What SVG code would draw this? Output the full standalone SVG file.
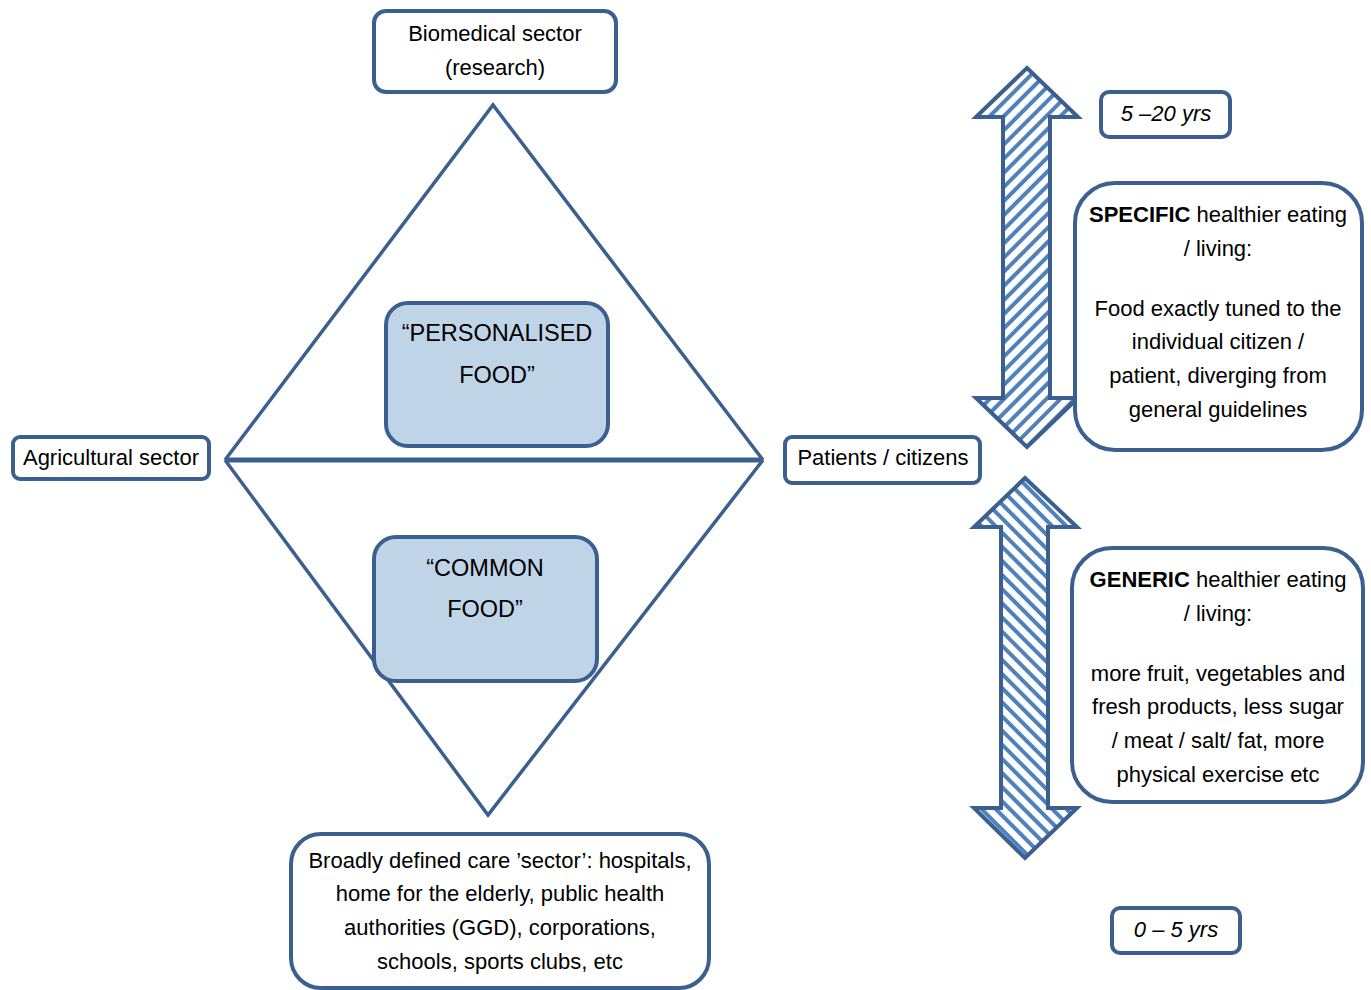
<svg xmlns="http://www.w3.org/2000/svg" width="1371" height="990" viewBox="0 0 1371 990">
<style>
.box{fill:#fff;stroke:#3b5f8e;stroke-width:4}
.food{fill:#c0d4e8;stroke:#3b5f8e;stroke-width:4}
.ln{fill:none;stroke:#3b5f8e;stroke-width:3.5;stroke-linejoin:miter}
.t{font-family:"Liberation Sans",Arial,sans-serif;font-size:22px;fill:#000;text-anchor:middle}
.big{font-size:23.5px}
.it{font-style:italic}
.b{font-weight:bold}
.arr{stroke:#3b5f8e;stroke-width:4;stroke-linejoin:miter}
</style>
<defs>
<pattern id="up" width="10" height="10" patternUnits="userSpaceOnUse" patternTransform="rotate(45)">
<rect width="10" height="10" fill="#fff"/><rect width="4" height="10" fill="#4f81bd"/>
</pattern>
<pattern id="dn" width="10" height="10" patternUnits="userSpaceOnUse" patternTransform="rotate(-45)">
<rect width="10" height="10" fill="#fff"/><rect width="4" height="10" fill="#4f81bd"/>
</pattern>
</defs>
<rect width="1371" height="990" fill="#fff"/>
<g id="connectors">
<path class="ln" d="M225,460 L493,105 L763,460"/>
<path class="ln" d="M225,460 L488,815 L763,460"/>
<path class="ln" d="M225,460 L763,460" style="stroke-width:5"/>
</g>
<g id="arrow-top">
<path class="arr" fill="url(#up)" d="M1027,68 L1078,117 L1050,117 L1050,398 L1078,398 L1027,447 L976,398 L1003,398 L1003,117 L976,117 Z"/>
</g>
<g id="arrow-bottom">
<path class="arr" fill="url(#dn)" d="M1025,478 L1077,527 L1048,527 L1048,808 L1077,808 L1025,858 L974,808 L1001,808 L1001,527 L974,527 Z"/>
</g>
<g id="biomedical">
<rect class="box" x="374" y="11" width="242" height="81" rx="12"/>
<text class="t" x="495" y="41">Biomedical sector</text>
<text class="t" x="495" y="75">(research)</text>
</g>
<g id="agricultural">
<rect class="box" x="13" y="437" width="196" height="42" rx="7"/>
<text class="t" x="111" y="465">Agricultural sector</text>
</g>
<g id="patients">
<rect class="box" x="785" y="437" width="195" height="46" rx="7"/>
<text class="t" x="883" y="465">Patients / citizens</text>
</g>
<g id="personalised">
<rect class="food" x="386" y="303" width="222" height="143" rx="22"/>
<text class="t big" x="497" y="341">“PERSONALISED</text>
<text class="t big" x="497" y="383">FOOD”</text>
</g>
<g id="common">
<rect class="food" x="374" y="537" width="223" height="144" rx="22"/>
<text class="t big" x="485" y="576">“COMMON</text>
<text class="t big" x="485" y="617">FOOD”</text>
</g>
<g id="care">
<rect class="box" x="291" y="834" width="418" height="154" rx="30"/>
<text class="t" x="500" y="868">Broadly defined care ’sector’: hospitals,</text>
<text class="t" x="500" y="901">home for the elderly, public health</text>
<text class="t" x="500" y="935">authorities (GGD), corporations,</text>
<text class="t" x="500" y="969">schools, sports clubs, etc</text>
</g>
<g id="yrs-long">
<rect class="box" x="1101" y="92" width="129" height="45" rx="8"/>
<text class="t it" x="1166" y="121">5 –20 yrs</text>
</g>
<g id="yrs-short">
<rect class="box" x="1112" y="908" width="128" height="45" rx="8"/>
<text class="t it" x="1176" y="937">0 – 5 yrs</text>
</g>
<g id="specific">
<rect class="box" x="1075" y="183" width="287" height="267" rx="40"/>
<text class="t" x="1218" y="222"><tspan class="b">SPECIFIC</tspan> healthier eating</text>
<text class="t" x="1218" y="256">/ living:</text>
<text class="t" x="1218" y="316">Food exactly tuned to the</text>
<text class="t" x="1218" y="349">individual citizen /</text>
<text class="t" x="1218" y="383">patient, diverging from</text>
<text class="t" x="1218" y="417">general guidelines</text>
</g>
<g id="generic">
<rect class="box" x="1072" y="548" width="291" height="254" rx="40"/>
<text class="t" x="1218" y="587"><tspan class="b">GENERIC</tspan> healthier eating</text>
<text class="t" x="1218" y="621">/ living:</text>
<text class="t" x="1218" y="681">more fruit, vegetables and</text>
<text class="t" x="1218" y="714">fresh products, less sugar</text>
<text class="t" x="1218" y="748">/ meat / salt/ fat, more</text>
<text class="t" x="1218" y="782">physical exercise etc</text>
</g>
</svg>
